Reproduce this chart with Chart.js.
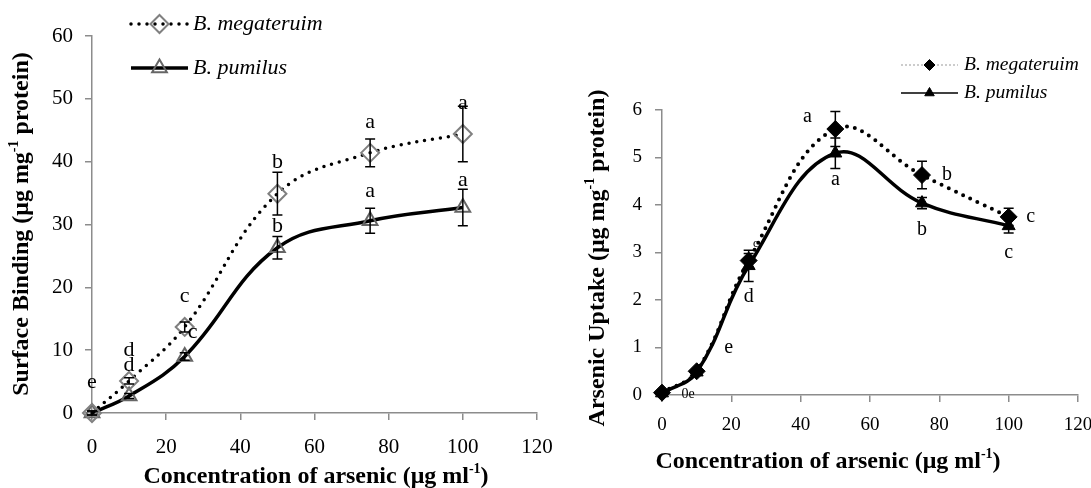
<!DOCTYPE html>
<html>
<head>
<meta charset="utf-8">
<script src="https://cdn.jsdelivr.net/npm/chart.js@4"></script>
<style>
body { margin: 0; background: #fff; overflow: hidden; }
#wrap { position: relative; width: 1091px; height: 488px; overflow: hidden; }
canvas { position: absolute; left: 0; top: 0; }
</style>
</head>
<body>
<div id="wrap">
  <canvas id="chartL" width="1130" height="488"></canvas>
  <canvas id="chartR" width="1130" height="488"></canvas>
</div>
<script>
// left panel: surface binding
const concL = [0, 10, 25, 50, 75, 100];
const megaL = [0, 5.1, 13.7, 34.9, 41.4, 44.4];
const megaErrL = [0.3, 0.5, 0.8, 3.4, 2.2, 4.4];
const pumL = [0, 2.7, 9.0, 26.3, 30.6, 32.7];
const pumErrL = [0.3, 0.4, 0.6, 1.8, 2.0, 2.9];
const megaLetL = ['e', 'd', 'c', 'b', 'a', 'a'];
const pumLetL = ['', 'd', 'c', 'b', 'a', 'a'];
const xTicks = [0, 20, 40, 60, 80, 100, 120];

// right panel: arsenic uptake
const concR = [0, 10, 25, 50, 75, 100];
const megaR = [0.05, 0.5, 2.83, 5.6, 4.63, 3.75];
const megaErrR = [0.03, 0.05, 0.15, 0.37, 0.29, 0.18];
const pumR = [0.04, 0.48, 2.72, 5.09, 4.04, 3.56];
const pumErrR = [0.03, 0.05, 0.33, 0.32, 0.12, 0.15];
const megaLetR = ['', 'e', 'c', 'a', 'b', 'c'];
const pumLetR = ['0e', '', 'd', 'a', 'b', 'c'];

const FONT = '"Liberation Serif", "Times New Roman", serif';

const errorBars = {
  id: 'errorBars',
  afterDatasetsDraw(chart) {
    const ctx = chart.ctx;
    const ys = chart.scales.y;
    chart.data.datasets.forEach((ds, i) => {
      if (!ds.errors) return;
      const meta = chart.getDatasetMeta(i);
      ctx.save();
      ctx.strokeStyle = '#000';
      ctx.lineWidth = 1.5;
      meta.data.forEach((pt, j) => {
        const e = ds.errors[j];
        const top = ys.getPixelForValue(ds.data[j].y + e);
        const bot = ys.getPixelForValue(ds.data[j].y - e);
        ctx.beginPath();
        ctx.moveTo(pt.x, top); ctx.lineTo(pt.x, bot);
        ctx.moveTo(pt.x - 5, top); ctx.lineTo(pt.x + 5, top);
        ctx.moveTo(pt.x - 5, bot); ctx.lineTo(pt.x + 5, bot);
        ctx.stroke();
      });
      ctx.restore();
    });
  }
};

const letters = {
  id: 'letters',
  afterDatasetsDraw(chart, args, opts) {
    const ctx = chart.ctx;
    chart.data.datasets.forEach((ds, i) => {
      if (!ds.letters) return;
      const meta = chart.getDatasetMeta(i);
      const offs = opts.offsets[i] || [];
      ctx.save();
      ctx.fillStyle = '#000';
      ctx.textAlign = 'center';
      ctx.textBaseline = 'middle';
      meta.data.forEach((pt, j) => {
        const t = ds.letters[j];
        if (!t) return;
        const o = offs[j] || [0, -31];
        ctx.font = (o[2] || opts.size) + 'px ' + FONT;
        ctx.fillText(t, pt.x + o[0], pt.y + o[1]);
      });
      ctx.restore();
    });
  }
};

const axisTitles = {
  id: 'axisTitles',
  afterDraw(chart, args, opts) {
    const ctx = chart.ctx;
    const big = 'bold ' + opts.size + 'px ' + FONT;
    const small = 'bold ' + Math.round(opts.size * 0.58) + 'px ' + FONT;
    opts.items.forEach(it => {
      ctx.save();
      ctx.translate(it.x, it.y);
      if (it.rotate) ctx.rotate(-Math.PI / 2);
      let w = 0;
      it.parts.forEach(p => { ctx.font = p.sup ? small : big; w += ctx.measureText(p.t).width; });
      let x = -w / 2;
      ctx.fillStyle = '#000';
      ctx.textAlign = 'left';
      ctx.textBaseline = 'middle';
      it.parts.forEach(p => {
        ctx.font = p.sup ? small : big;
        ctx.fillText(p.t, x, p.sup ? -opts.size * 0.3 : 0);
        x += ctx.measureText(p.t).width;
      });
      ctx.restore();
    });
  }
};

const sideLegend = {
  id: 'sideLegend',
  afterDraw(chart, args, opts) {
    const ctx = chart.ctx;
    opts.items.forEach((it, i) => {
      const ds = chart.data.datasets[i];
      ctx.save();
      ctx.strokeStyle = it.lineColor;
      ctx.lineWidth = it.lineWidth;
      ctx.lineCap = it.cap;
      ctx.setLineDash(it.dash);
      ctx.beginPath();
      ctx.moveTo(opts.x1, it.y);
      ctx.lineTo(opts.x2, it.y);
      ctx.stroke();
      ctx.setLineDash([]);
      ctx.fillStyle = ds.pointBackgroundColor;
      ctx.strokeStyle = ds.pointBorderColor;
      ctx.lineWidth = ds.pointBorderWidth;
      Chart.helpers.drawPoint(ctx, {
        pointStyle: ds.pointStyle, radius: it.radius,
        borderWidth: ds.pointBorderWidth, rotation: 0
      }, (opts.x1 + opts.x2) / 2, it.y);
      ctx.fillStyle = '#000';
      ctx.font = 'italic ' + opts.size + 'px ' + FONT;
      ctx.textAlign = 'left';
      ctx.textBaseline = 'middle';
      ctx.fillText(ds.label, opts.textX, it.y);
      ctx.restore();
    });
  }
};

function axes(ymax, ystep, yWidth, xHeight, tickSize, xPad, yPad) {
  const grid = { display: true, drawOnChartArea: false, drawTicks: true, tickLength: 7, color: '#8c8c8c', lineWidth: 1.5 };
  return {
    x: {
      type: 'linear', min: 0, max: 120,
      afterBuildTicks: s => { s.ticks = xTicks.map(v => ({ value: v })); },
      grid: grid,
      border: { color: '#8c8c8c', width: 1.5 },
      ticks: { color: '#000', padding: xPad, font: { family: FONT, size: tickSize } },
      afterFit: s => { s.height = xHeight; }
    },
    y: {
      min: 0, max: ymax,
      grid: grid,
      border: { color: '#8c8c8c', width: 1.5 },
      ticks: { stepSize: ystep, color: '#000', padding: yPad, font: { family: FONT, size: tickSize } },
      afterFit: s => { s.width = yWidth; }
    }
  };
}

new Chart(document.getElementById('chartL'), {
  type: 'line',
  data: {
    datasets: [{
      label: 'B. megateruim',
      data: concL.map((x, i) => ({ x: x, y: megaL[i] })),
      errors: megaErrL,
      letters: megaLetL,
      borderColor: '#000', borderWidth: 3.5, borderDash: [0, 8], borderCapStyle: 'round',
      tension: 0.4,
      pointStyle: 'rectRot', pointRadius: 9,
      pointBackgroundColor: 'rgba(255,255,255,0)', pointBorderColor: '#808080', pointBorderWidth: 2,
      clip: false
    }, {
      label: 'B. pumilus',
      data: concL.map((x, i) => ({ x: x, y: pumL[i] })),
      errors: pumErrL,
      letters: pumLetL,
      borderColor: '#000', borderWidth: 3.5,
      tension: 0.4,
      pointStyle: 'triangle', pointRadius: 8.5,
      pointBackgroundColor: 'rgba(255,255,255,0)', pointBorderColor: '#666', pointBorderWidth: 2,
      clip: false
    }]
  },
  options: {
    responsive: false, animation: false, events: [],
    layout: { padding: { left: 0, top: 36, right: 1130 - 537, bottom: 0 } },
    scales: axes(60, 10, 92, 75, 21, 15, 12),
    plugins: {
      legend: { display: false },
      tooltip: { enabled: false },
      letters: { size: 22, offsets: [[], [null, null, [8, -24], [0, -22], [0, -30], [0, -27]]] },
      sideLegend: {
        x1: 131, x2: 188, textX: 193, size: 22,
        items: [
          { y: 24, lineColor: '#000', lineWidth: 3.5, dash: [0, 8], cap: 'round', radius: 9 },
          { y: 68, lineColor: '#000', lineWidth: 3.5, dash: [], cap: 'butt', radius: 8.5 }
        ]
      },
      axisTitles: {
        size: 24,
        items: [
          { x: 22, y: 224, rotate: true, parts: [{ t: 'Surface Binding (\u03bcg mg' }, { t: '-1', sup: true }, { t: ' protein)' }] },
          { x: 316, y: 477, parts: [{ t: 'Concentration of arsenic (\u03bcg ml' }, { t: '-1', sup: true }, { t: ')' }] }
        ]
      }
    }
  },
  plugins: [errorBars, letters, sideLegend, axisTitles]
});

new Chart(document.getElementById('chartR'), {
  type: 'line',
  data: {
    datasets: [{
      label: 'B. megateruim',
      data: concR.map((x, i) => ({ x: x, y: megaR[i] })),
      errors: megaErrR,
      letters: megaLetR,
      borderColor: '#000', borderWidth: 4, borderDash: [0, 8], borderCapStyle: 'round',
      tension: 0.4,
      pointStyle: 'rectRot', pointRadius: 8.5,
      pointBackgroundColor: '#000', pointBorderColor: '#000', pointBorderWidth: 1,
      clip: false
    }, {
      label: 'B. pumilus',
      data: concR.map((x, i) => ({ x: x, y: pumR[i] })),
      errors: pumErrR,
      letters: pumLetR,
      borderColor: '#000', borderWidth: 3.5,
      tension: 0.4,
      pointStyle: 'triangle', pointRadius: 7.5,
      pointBackgroundColor: '#000', pointBorderColor: '#000', pointBorderWidth: 1,
      clip: false
    }]
  },
  options: {
    responsive: false, animation: false, events: [],
    layout: { padding: { left: 560, top: 110, right: 1130 - 1078, bottom: 0 } },
    scales: axes(6, 1, 102, 93, 19, 12, 13),
    plugins: {
      legend: { display: false },
      tooltip: { enabled: false },
      letters: {
        size: 20,
        offsets: [
          [null, [32, -24], [7, -17, 12], [-28, -12], [25, 0], [22, 0]],
          [[26, 1, 14], null, [0, 31], [0, 27], [0, 27], [0, 27]]
        ]
      },
      sideLegend: {
        x1: 901, x2: 958, textX: 964, size: 19.5,
        items: [
          { y: 65, lineColor: '#999', lineWidth: 1, dash: [2, 2], cap: 'butt', radius: 5.5 },
          { y: 93, lineColor: '#000', lineWidth: 1.5, dash: [], cap: 'butt', radius: 5.5 }
        ]
      },
      axisTitles: {
        size: 24,
        items: [
          { x: 598, y: 258, rotate: true, parts: [{ t: 'Arsenic Uptake (\u03bcg mg' }, { t: '-1', sup: true }, { t: ' protein)' }] },
          { x: 828, y: 462, parts: [{ t: 'Concentration of arsenic (\u03bcg ml' }, { t: '-1', sup: true }, { t: ')' }] }
        ]
      }
    }
  },
  plugins: [errorBars, letters, sideLegend, axisTitles]
});
</script>
</body>
</html>
